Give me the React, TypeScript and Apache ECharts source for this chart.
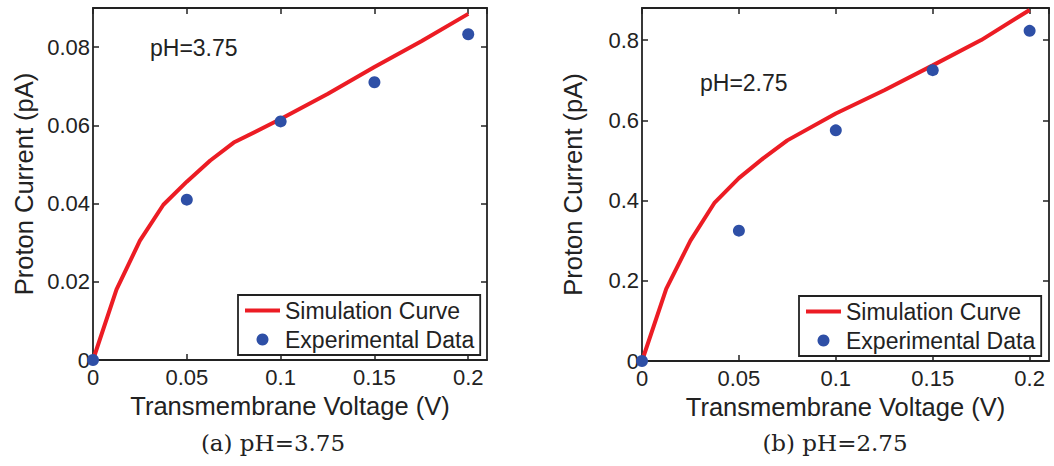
import React, { useEffect, useRef } from "react";
import * as echarts from "echarts";

// Panel (a) pH = 3.75
const simXA = [0, 0.0125, 0.025, 0.0375, 0.05, 0.0625, 0.075, 0.1, 0.125, 0.15, 0.175, 0.2];
const simYA = [0, 0.018, 0.0305, 0.0397, 0.0456, 0.051, 0.0556, 0.0616, 0.068, 0.0749, 0.0815, 0.0885];
const expXA = [0, 0.05, 0.1, 0.15, 0.2];
const expYA = [0, 0.041, 0.061, 0.071, 0.0833];

// Panel (b) pH = 2.75
const simXB = [0, 0.0125, 0.025, 0.0375, 0.05, 0.0625, 0.075, 0.1, 0.125, 0.15, 0.175, 0.2];
const simYB = [0, 0.18, 0.3, 0.395, 0.456, 0.505, 0.55, 0.617, 0.675, 0.737, 0.8, 0.875];
const expXB = [0, 0.05, 0.1, 0.15, 0.2];
const expYB = [0, 0.325, 0.575, 0.725, 0.823];

const legendNames = ["Simulation Curve", "Experimental Data"];
const xTitle = "Transmembrane Voltage (V)";
const yTitle = "Proton Current (pA)";
const captions = ["(a) pH=3.75", "(b) pH=2.75"];
const annotations = ["pH=3.75", "pH=2.75"];

const RED = "#ec1c24";
const BLUE = "#2e4fa6";
const INK = "#222";
const SANS = "Liberation Sans, Arial, Helvetica, sans-serif";
const SERIF = "DejaVu Serif, Liberation Serif, serif";

const zip = (xs: number[], ys: number[]) => xs.map((x, i) => [x, ys[i]]);

export default function App() {
  const ref = useRef<HTMLDivElement>(null);
  useEffect(() => {
    if (!ref.current) return;
    const chart = echarts.init(ref.current, undefined, { renderer: "svg" });

    const axisLine = { show: true, onZero: false, lineStyle: { color: INK, width: 1.8 } };
    const tick = { show: true, inside: true, length: 6, lineStyle: { color: INK, width: 1.5 } };

    const xMain = (grid: number) => ({
      type: "value",
      gridIndex: grid,
      position: "bottom",
      min: 0,
      max: 0.21,
      interval: 0.05,
      axisLine,
      axisTick: tick,
      splitLine: { show: false },
      axisLabel: { color: INK, fontSize: 22, fontFamily: SANS, margin: 6, showMaxLabel: false },
      name: xTitle,
      nameLocation: "middle",
      nameGap: 28,
      nameTextStyle: { color: INK, fontSize: 25.5, fontFamily: SANS },
    });
    const xTop = (grid: number) => ({
      type: "value",
      gridIndex: grid,
      position: "top",
      min: 0,
      max: 0.21,
      interval: 0.05,
      axisLine,
      axisTick: tick,
      splitLine: { show: false },
      axisLabel: { show: false },
    });
    const yMain = (grid: number, max: number, interval: number) => ({
      type: "value",
      gridIndex: grid,
      position: "left",
      min: 0,
      max,
      interval,
      axisLine,
      axisTick: tick,
      splitLine: { show: false },
      axisLabel: { color: INK, fontSize: 22, fontFamily: SANS, margin: 3, showMaxLabel: false },
      name: yTitle,
      nameLocation: "middle",
      nameGap: 56,
      nameTextStyle: { color: INK, fontSize: 25.5, fontFamily: SANS },
    });
    const yRight = (grid: number, max: number, interval: number) => ({
      type: "value",
      gridIndex: grid,
      position: "right",
      min: 0,
      max,
      interval,
      axisLine,
      axisTick: tick,
      splitLine: { show: false },
      axisLabel: { show: false },
    });

    const legend = (left: number, top: number) => ({
      orient: "vertical",
      left,
      top,
      data: [
        { name: legendNames[0], icon: "path://M0,0 L35,0 L35,4 L0,4 Z", itemStyle: { color: RED } },
        { name: legendNames[1], icon: "circle", itemStyle: { color: BLUE, opacity: 1 } },
      ],
      itemWidth: 35,
      itemHeight: 12,
      itemGap: 6,
      padding: [4, 6, 4, 7],
      borderColor: INK,
      borderWidth: 1.8,
      backgroundColor: "#fff",
      textStyle: { color: INK, fontSize: 23, fontFamily: SANS },
      selectedMode: false,
    });

    const lineSeries = (name: string, xi: number, yi: number, data: number[][]) => ({
      name,
      type: "line",
      xAxisIndex: xi,
      yAxisIndex: yi,
      data,
      symbol: "none",
      lineStyle: { color: RED, width: 4 },
      itemStyle: { color: RED },
      z: 2,
    });
    const scatterSeries = (name: string, xi: number, yi: number, data: number[][]) => ({
      name,
      type: "scatter",
      xAxisIndex: xi,
      yAxisIndex: yi,
      data,
      symbol: "circle",
      symbolSize: 12,
      itemStyle: { color: BLUE, opacity: 1 },
      clip: false,
      z: 3,
    });

    chart.setOption({
      animation: false,
      backgroundColor: "#fff",
      grid: [
        { left: 93, top: 8, width: 394, height: 352 },
        { left: 642, top: 8, width: 407, height: 353 },
      ],
      xAxis: [xMain(0), xTop(0), xMain(1), xTop(1)],
      yAxis: [yMain(0, 0.09, 0.02), yRight(0, 0.09, 0.02), yMain(1, 0.88, 0.2), yRight(1, 0.88, 0.2)],
      legend: [legend(238, 295), legend(799, 296)],
      series: [
        lineSeries(legendNames[0], 0, 0, zip(simXA, simYA)),
        scatterSeries(legendNames[1], 0, 0, zip(expXA, expYA)),
        lineSeries(legendNames[0], 2, 2, zip(simXB, simYB)),
        scatterSeries(legendNames[1], 2, 2, zip(expXB, expYB)),
      ],
      graphic: [
        {
          type: "text",
          left: 150,
          top: 36,
          style: { text: annotations[0], fill: INK, fontSize: 23, fontFamily: SANS },
        },
        {
          type: "text",
          left: 700,
          top: 71,
          style: { text: annotations[1], fill: INK, fontSize: 23, fontFamily: SANS },
        },
        {
          type: "text",
          x: 273,
          y: 443,
          style: {
            text: captions[0],
            fill: INK,
            fontSize: 23,
            fontFamily: SERIF,
            textAlign: "center",
            textVerticalAlign: "middle",
          },
        },
        {
          type: "text",
          x: 835,
          y: 443,
          style: {
            text: captions[1],
            fill: INK,
            fontSize: 23,
            fontFamily: SERIF,
            textAlign: "center",
            textVerticalAlign: "middle",
          },
        },
      ],
    });
    return () => chart.dispose();
  }, []);
  return (
    <div
      ref={ref}
      style={{ position: "fixed", left: 0, top: 0, width: 1054, height: 466, background: "#fff" }}
    />
  );
}
